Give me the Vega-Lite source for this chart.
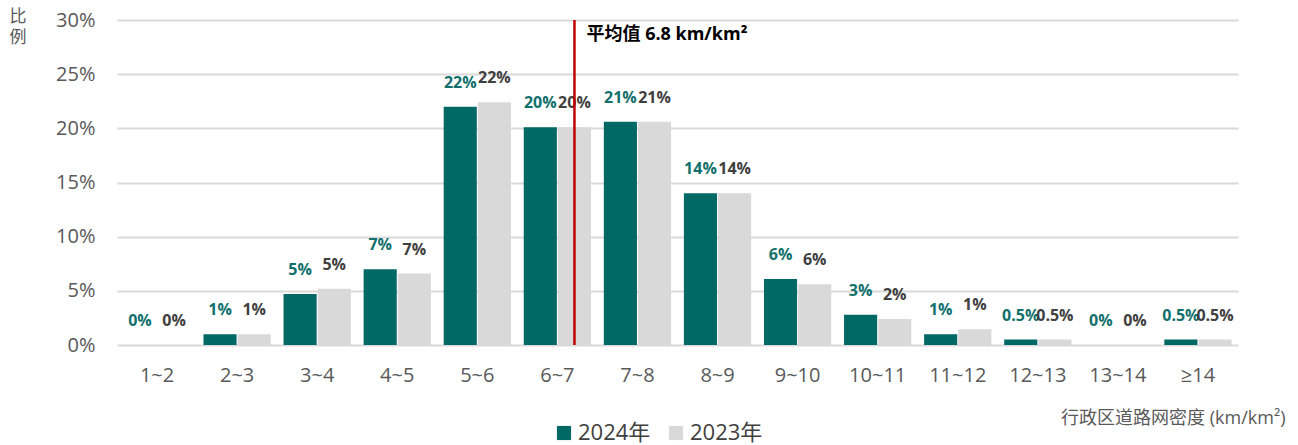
{
  "$schema": "https://vega.github.io/schema/vega-lite/v6.json",
  "autosize": {"type": "none"},
  "width": 1121,
  "height": 325,
  "padding": {"left": 117, "top": 20, "right": 60, "bottom": 100},
  "background": "white",
  "config": {
    "font": "Open Sans, Noto Sans CJK SC",
    "view": {"stroke": null}
  },
  "datasets": {
    "bars": [
      {"cat": "1~2", "series": "2024年", "value": 0.0, "label": "0%"},
      {"cat": "1~2", "series": "2023年", "value": 0.0, "label": "0%"},
      {"cat": "2~3", "series": "2024年", "value": 0.010, "label": "1%"},
      {"cat": "2~3", "series": "2023年", "value": 0.010, "label": "1%"},
      {"cat": "3~4", "series": "2024年", "value": 0.047, "label": "5%"},
      {"cat": "3~4", "series": "2023年", "value": 0.052, "label": "5%"},
      {"cat": "4~5", "series": "2024年", "value": 0.070, "label": "7%"},
      {"cat": "4~5", "series": "2023年", "value": 0.066, "label": "7%"},
      {"cat": "5~6", "series": "2024年", "value": 0.220, "label": "22%"},
      {"cat": "5~6", "series": "2023年", "value": 0.224, "label": "22%"},
      {"cat": "6~7", "series": "2024年", "value": 0.201, "label": "20%"},
      {"cat": "6~7", "series": "2023年", "value": 0.201, "label": "20%"},
      {"cat": "7~8", "series": "2024年", "value": 0.206, "label": "21%"},
      {"cat": "7~8", "series": "2023年", "value": 0.206, "label": "21%"},
      {"cat": "8~9", "series": "2024年", "value": 0.140, "label": "14%"},
      {"cat": "8~9", "series": "2023年", "value": 0.140, "label": "14%"},
      {"cat": "9~10", "series": "2024年", "value": 0.061, "label": "6%"},
      {"cat": "9~10", "series": "2023年", "value": 0.056, "label": "6%"},
      {"cat": "10~11", "series": "2024年", "value": 0.028, "label": "3%"},
      {"cat": "10~11", "series": "2023年", "value": 0.024, "label": "2%"},
      {"cat": "11~12", "series": "2024年", "value": 0.010, "label": "1%"},
      {"cat": "11~12", "series": "2023年", "value": 0.0145, "label": "1%"},
      {"cat": "12~13", "series": "2024年", "value": 0.005, "label": "0.5%"},
      {"cat": "12~13", "series": "2023年", "value": 0.005, "label": "0.5%"},
      {"cat": "13~14", "series": "2024年", "value": 0.0, "label": "0%"},
      {"cat": "13~14", "series": "2023年", "value": 0.0, "label": "0%"},
      {"cat": "≥14", "series": "2024年", "value": 0.005, "label": "0.5%"},
      {"cat": "≥14", "series": "2023年", "value": 0.005, "label": "0.5%"}
    ],
    "avg": [
      {"cat": "6~7", "series": "2023年", "value": 0.30, "note": "平均值 6.8 km/km²"}
    ]
  },
  "encoding": {
    "x": {
      "field": "cat",
      "type": "nominal",
      "sort": ["1~2","2~3","3~4","4~5","5~6","6~7","7~8","8~9","9~10","10~11","11~12","12~13","13~14","≥14"],
      "scale": {"paddingInner": 0.16, "paddingOuter": 0.08},
      "axis": {
        "title": "行政区道路网密度 (km/km²)",
        "titleFontSize": 18,
        "titleFontWeight": "normal",
        "titleColor": "#595959",
        "titleAnchor": "end",
        "titleAlign": "right",
        "titleBaseline": "middle",
        "titleX": 1168,
        "titleY": 73,
        "labelAngle": 0,
        "labelFontSize": 20,
        "labelColor": "#595959",
        "labelPadding": 20,
        "domain": false,
        "ticks": false,
        "grid": false
      }
    },
    "xOffset": {
      "field": "series",
      "type": "nominal",
      "sort": ["2024年", "2023年"],
      "scale": {"paddingInner": 0.03}
    }
  },
  "layer": [
    {
      "data": {"name": "bars"},
      "mark": {"type": "bar"},
      "encoding": {
        "y": {
          "field": "value",
          "type": "quantitative",
          "scale": {"domain": [0, 0.3]},
          "axis": {
            "title": ["比", "例"],
            "titleAngle": 0,
            "titleFontSize": 17,
            "titleFontWeight": "normal",
            "titleColor": "#595959",
            "titleAlign": "left",
            "titleBaseline": "top",
            "titleLineHeight": 21,
            "titleX": -108,
            "titleY": -12,
            "values": [0, 0.05, 0.1, 0.15, 0.2, 0.25, 0.3],
            "format": ".0%",
            "labelFontSize": 20,
            "labelColor": "#595959",
            "labelPadding": 22,
            "domain": false,
            "ticks": false,
            "gridColor": "#d9d9d9",
            "gridWidth": 2
          }
        },
        "color": {
          "field": "series",
          "type": "nominal",
          "sort": ["2024年", "2023年"],
          "scale": {"domain": ["2024年", "2023年"], "range": ["#006865", "#d9d9d9"]},
          "legend": {
            "title": null,
            "orient": "none",
            "direction": "horizontal",
            "legendX": 436,
            "legendY": 402,
            "symbolType": "square",
            "symbolSize": 200,
            "symbolStrokeWidth": 0,
            "labelFontSize": 22,
            "labelColor": "#404040",
            "labelOffset": 3,
            "columnPadding": 14
          }
        }
      }
    },
    {
      "data": {"name": "bars"},
      "mark": {"type": "text", "fontSize": 16, "fontWeight": "bold", "baseline": "middle", "dy": -24},
      "encoding": {
        "y": {"field": "value", "type": "quantitative"},
        "text": {"field": "label"},
        "color": {
          "condition": {"test": "datum.series === '2024年'", "value": "#12706c"},
          "value": "#404040"
        }
      }
    },
    {
      "data": {"name": "avg"},
      "mark": {"type": "rule", "color": "#c00000", "strokeWidth": 2.5},
      "encoding": {}
    },
    {
      "data": {"name": "avg"},
      "mark": {"type": "text", "fontSize": 18, "fontWeight": "bold", "color": "#000000", "align": "left", "baseline": "middle", "dx": 12, "dy": 15},
      "encoding": {
        "y": {"field": "value", "type": "quantitative"},
        "text": {"field": "note"}
      }
    }
  ]
}
